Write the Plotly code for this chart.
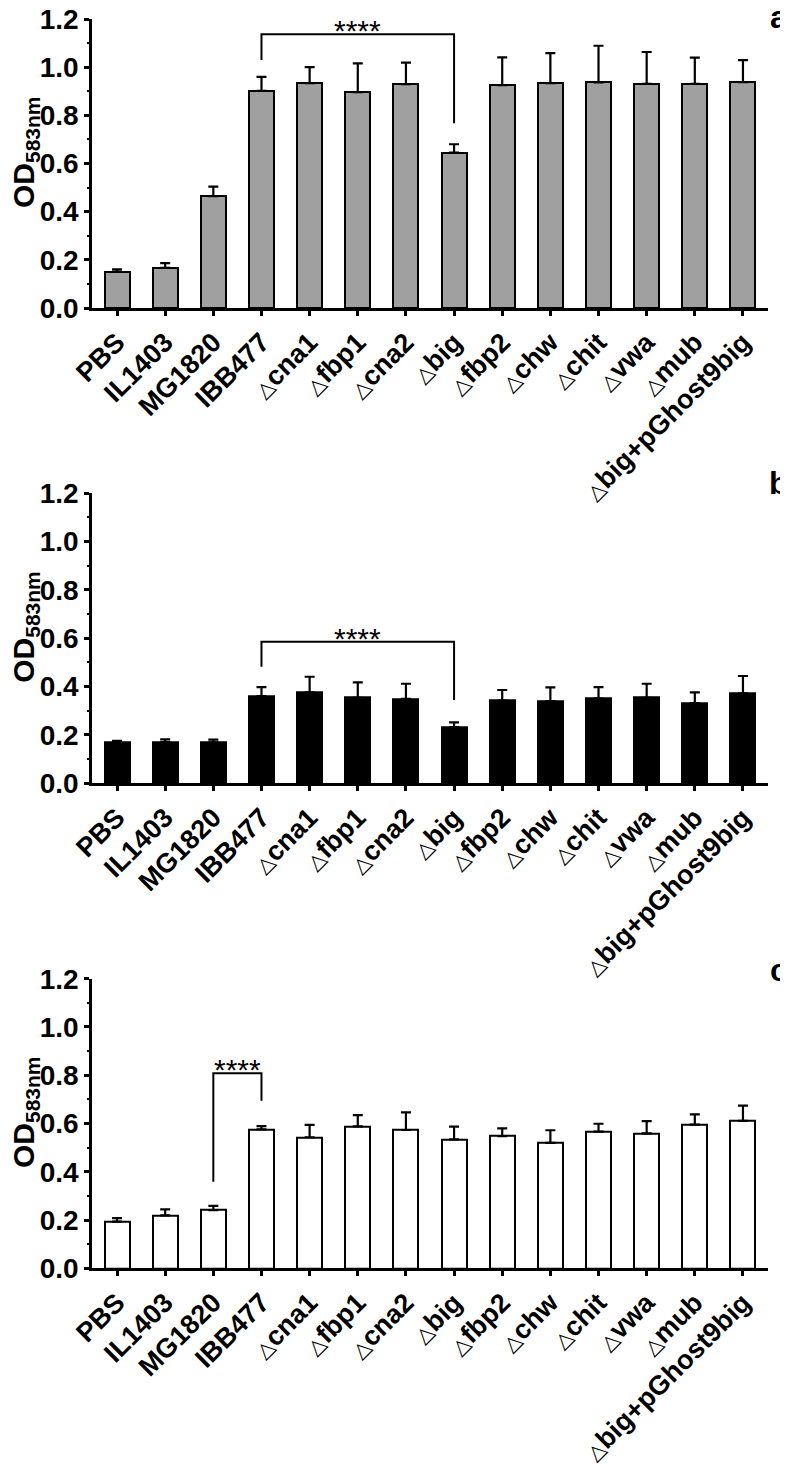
import plotly.graph_objects as go

categories = ["PBS", "IL1403", "MG1820", "IBB477", "Δcna1", "Δfbp1", "Δcna2", "Δbig",
              "Δfbp2", "Δchw", "Δchit", "Δvwa", "Δmub", "Δbig+pGhost9big"]

a_mean = [0.151, 0.167, 0.464, 0.902, 0.934, 0.896, 0.929, 0.645, 0.925, 0.934, 0.937, 0.931, 0.931, 0.938]
a_err = [0.010, 0.019, 0.040, 0.058, 0.066, 0.120, 0.090, 0.035, 0.116, 0.124, 0.152, 0.132, 0.109, 0.091]

b_mean = [0.168, 0.171, 0.168, 0.361, 0.376, 0.354, 0.349, 0.233, 0.342, 0.340, 0.350, 0.354, 0.332, 0.372]
b_err = [0.008, 0.011, 0.013, 0.037, 0.065, 0.064, 0.063, 0.019, 0.044, 0.057, 0.048, 0.058, 0.044, 0.072]

c_mean = [0.193, 0.219, 0.241, 0.576, 0.543, 0.588, 0.573, 0.534, 0.548, 0.520, 0.566, 0.559, 0.595, 0.611]
c_err = [0.015, 0.025, 0.018, 0.013, 0.051, 0.047, 0.073, 0.053, 0.032, 0.052, 0.033, 0.051, 0.043, 0.063]

# significance brackets: (left index, left bottom, right index, right bottom, top, label)
a_bracket = (3, 1.03, 7, 0.767, 1.137, "****")
b_bracket = (3, 0.482, 7, 0.345, 0.586, "****")
c_bracket = (2, 0.359, 3, 0.694, 0.808, "****")

panel_labels = ["a", "b", "c"]
y_ticks = [0.0, 0.2, 0.4, 0.6, 0.8, 1.0, 1.2]

FONT = "Liberation Sans, Arial, sans-serif"
OFF = 8  # page body margin offset
W, H = 780, 1462
ML, MR, MT, MB = 92 - OFF, 20, 0, 0
PW = W - ML - MR

def px_x(p):
    return (p - OFF - ML) / PW

def px_y(p):
    return (H - (p - OFF)) / H

# window pixel positions of each panel: (top of 1.2, y of 0)
panel_px = [(19, 308), (493.3, 783.3), (978.7, 1268.3)]
fills = ["#a0a0a0", "#000000", "#ffffff"]
means = [a_mean, b_mean, c_mean]
errs = [a_err, b_err, c_err]
brackets = [a_bracket, b_bracket, c_bracket]
label_y_px = [17, 483, 970]

tri = '<span style="font-weight:normal;font-family:DejaVu Sans;font-size:21px">△</span>'
ticktext = [c.replace("Δ", tri) for c in categories]
xs = list(range(len(categories)))

fig = go.Figure()
shapes = []
annotations = []
for i in range(3):
    xa = "x" if i == 0 else f"x{i+1}"
    ya = "y" if i == 0 else f"y{i+1}"
    fig.add_trace(go.Bar(
        x=xs, y=means[i], xaxis=xa, yaxis=ya, width=0.52,
        marker=dict(color=fills[i], line=dict(color="black", width=2)),
        error_y=dict(type="data", symmetric=False, array=errs[i],
                     arrayminus=[0] * len(errs[i]), color="black", thickness=2.2, width=5),
        showlegend=False,
    ))
    top_px, bot_px = panel_px[i]
    dom = [px_y(bot_px), px_y(top_px)]
    xkey = "xaxis" if i == 0 else f"xaxis{i+1}"
    ykey = "yaxis" if i == 0 else f"yaxis{i+1}"
    fig.update_layout({
        xkey: dict(domain=[0, 1], anchor=ya, range=[-0.52, 13.52], automargin=False,
                   tickmode="array", tickvals=xs, ticktext=ticktext, tickangle=-45,
                   showline=True, linecolor="black", linewidth=2.5,
                   ticks="outside", ticklen=5, tickwidth=2.5, tickcolor="black",
                   showgrid=False, zeroline=False, ticklabeloverflow="allow",
                   tickfont=dict(family=FONT, size=27, color="black", weight="bold")),
        ykey: dict(domain=dom, anchor=xa, range=[0, 1.2], automargin=False,
                   tickmode="array", tickvals=y_ticks,
                   ticktext=[f"{v:.1f}" for v in y_ticks],
                   showline=True, linecolor="black", linewidth=2.5,
                   ticks="outside", ticklen=5, tickwidth=2.5, tickcolor="black",
                   minor=dict(ticks="outside", ticklen=2, tickwidth=1.5, dtick=0.1,
                              tickcolor="black", tick0=0),
                   showgrid=False, zeroline=False, ticklabeloverflow="allow",
                   tickfont=dict(family=FONT, size=28, color="black", weight="bold")),
    })
    l, lb, r, rb, top, lab = brackets[i]
    shapes.append(dict(type="path", xref=xa, yref=ya,
                       path=f"M {l},{lb} L {l},{top} L {r},{top} L {r},{rb}",
                       line=dict(color="black", width=2)))
    annotations.append(dict(x=(l + r) / 2, y=top, xref=xa, yref=ya, text=lab,
                            showarrow=False, yanchor="bottom", yshift=-15,
                            font=dict(family=FONT, size=30, color="black")))
    # panel label
    annotations.append(dict(x=px_x(778.5), y=px_y(label_y_px[i]), xref="paper", yref="paper",
                            text=panel_labels[i], showarrow=False,
                            xanchor="center", yanchor="middle",
                            font=dict(family=FONT, size=32, color="black", weight="bold")))
    # y-axis title
    center_px = (top_px + bot_px) / 2 - 11
    annotations.append(dict(x=px_x(OFF), y=px_y(center_px), xref="paper", yref="paper",
                            text="OD<sub>583nm</sub>", textangle=-90, showarrow=False,
                            xanchor="left", yanchor="middle", xshift=-3,
                            font=dict(family=FONT, size=30, color="black", weight="bold")))

fig.update_layout(
    width=W, height=H,
    margin=dict(l=ML, r=MR, t=MT, b=MB, autoexpand=False),
    paper_bgcolor="white", plot_bgcolor="white",
    bargap=0, shapes=shapes, annotations=annotations,
)

fig.write_html("out.html")
